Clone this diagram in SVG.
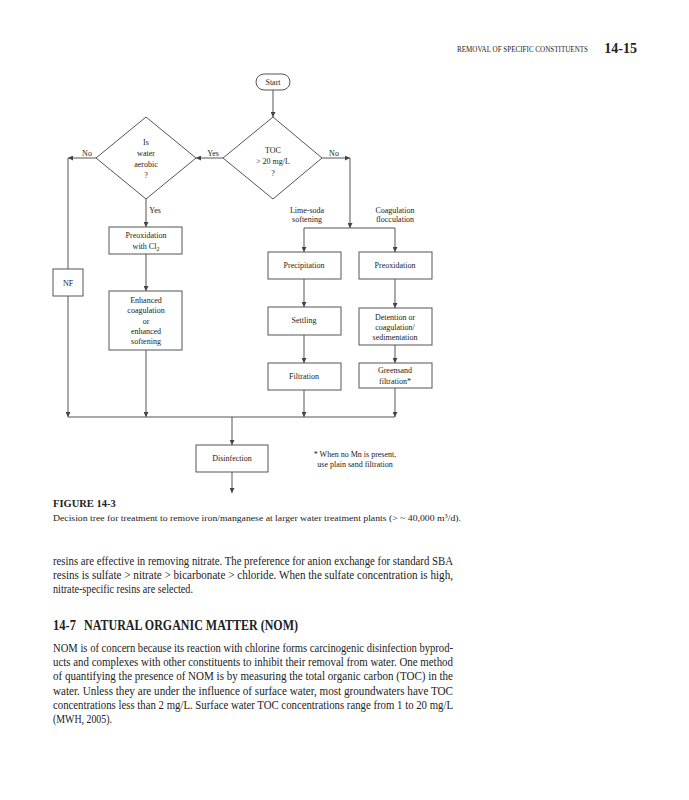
<svg xmlns="http://www.w3.org/2000/svg" width="689" height="800" viewBox="0 0 689 800">
<style>
  .ln{stroke:#555;stroke-width:1;fill:none}
  .box{fill:#fff;stroke:#555;stroke-width:1}
  .t{font-family:"Liberation Serif",serif;font-size:8px;fill:#222;text-anchor:middle}
  .body{font-family:"Liberation Serif",serif;font-size:12.5px;fill:#222}
</style>
<defs>
  <marker id="ah" viewBox="0 0 8 8" refX="8" refY="4" markerWidth="5" markerHeight="5" orient="auto" markerUnits="userSpaceOnUse">
    <path d="M0,0 L8,4 L0,8 Z" fill="#444"/>
  </marker>
</defs>
<rect width="689" height="800" fill="#fff"/>

<text x="588" y="52" font-family="Liberation Serif,serif" font-size="7.5" fill="#222" text-anchor="end" textLength="131" lengthAdjust="spacingAndGlyphs">REMOVAL OF SPECIFIC CONSTITUENTS</text>
<text x="637" y="53" font-family="Liberation Serif,serif" font-size="14" font-weight="bold" fill="#222" text-anchor="end">14-15</text>

<g id="connectors">
  <line class="ln" x1="273" y1="90" x2="273" y2="117" marker-end="url(#ah)"/>
  <line class="ln" x1="223" y1="158" x2="196" y2="158" marker-end="url(#ah)"/>
  <line class="ln" x1="96" y1="158" x2="68" y2="158" marker-end="url(#ah)"/>
  <line class="ln" x1="68" y1="158" x2="68" y2="269"/>
  <line class="ln" x1="68" y1="296" x2="68" y2="417" marker-end="url(#ah)"/>
  <line class="ln" x1="322" y1="158" x2="350" y2="158" marker-end="url(#ah)"/>
  <line class="ln" x1="350" y1="158" x2="350" y2="228" marker-end="url(#ah)"/>
  <line class="ln" x1="304" y1="228" x2="395" y2="228"/>
  <line class="ln" x1="304" y1="228" x2="304" y2="252" marker-end="url(#ah)"/>
  <line class="ln" x1="395" y1="228" x2="395" y2="252" marker-end="url(#ah)"/>
  <line class="ln" x1="304" y1="279" x2="304" y2="307" marker-end="url(#ah)"/>
  <line class="ln" x1="395" y1="279" x2="395" y2="308" marker-end="url(#ah)"/>
  <line class="ln" x1="304" y1="335" x2="304" y2="363" marker-end="url(#ah)"/>
  <line class="ln" x1="395" y1="345" x2="395" y2="363" marker-end="url(#ah)"/>
  <line class="ln" x1="304" y1="390" x2="304" y2="417" marker-end="url(#ah)"/>
  <line class="ln" x1="395" y1="388" x2="395" y2="417" marker-end="url(#ah)"/>
  <line class="ln" x1="146" y1="199" x2="146" y2="227" marker-end="url(#ah)"/>
  <line class="ln" x1="146" y1="254" x2="146" y2="291" marker-end="url(#ah)"/>
  <line class="ln" x1="146" y1="350" x2="146" y2="417" marker-end="url(#ah)"/>
  <line class="ln" x1="68" y1="417" x2="395" y2="417"/>
  <line class="ln" x1="232" y1="417" x2="232" y2="445" marker-end="url(#ah)"/>
  <line class="ln" x1="232" y1="472" x2="232" y2="493" marker-end="url(#ah)"/>
  <text class="t" x="213" y="156">Yes</text>
  <text class="t" x="87" y="156">No</text>
  <text class="t" x="334" y="156">No</text>
  <text class="t" x="155" y="213">Yes</text>
  <text class="t" x="307" y="213">Lime-soda</text>
  <text class="t" x="307" y="222">softening</text>
  <text class="t" x="395" y="213">Coagulation</text>
  <text class="t" x="395" y="222">flocculation</text>
</g>

<g id="start">
  <rect class="box" x="256" y="74" width="34" height="16" rx="8"/>
  <text class="t" x="273" y="85">Start</text>
</g>
<g id="toc">
  <polygon class="box" points="273,117 322,158 273,199 223,158"/>
  <text class="t" x="273" y="153">TOC</text>
  <text class="t" x="273" y="164">&gt; 20 mg/L</text>
  <text class="t" x="273" y="176">?</text>
</g>
<g id="aerobic">
  <polygon class="box" points="146,117 196,158 146,199 96,158"/>
  <text class="t" x="146" y="145">Is</text>
  <text class="t" x="146" y="156">water</text>
  <text class="t" x="146" y="167">aerobic</text>
  <text class="t" x="146" y="178">?</text>
</g>
<g id="nf">
  <rect class="box" x="53" y="269" width="30" height="27"/>
  <text class="t" x="68" y="286">NF</text>
</g>
<g id="preox-cl2">
  <rect class="box" x="109" y="227" width="73" height="27"/>
  <text class="t" x="146" y="238">Preoxidation</text>
  <text class="t" x="146" y="249">with Cl<tspan font-size="6" dy="1.5">2</tspan></text>
</g>
<g id="enhanced">
  <rect class="box" x="109" y="291" width="73" height="59"/>
  <text class="t" x="146" y="303">Enhanced</text>
  <text class="t" x="146" y="313">coagulation</text>
  <text class="t" x="146" y="324">or</text>
  <text class="t" x="146" y="334">enhanced</text>
  <text class="t" x="146" y="344">softening</text>
</g>
<g id="precipitation">
  <rect class="box" x="268" y="252" width="73" height="27"/>
  <text class="t" x="304" y="268">Precipitation</text>
</g>
<g id="preoxidation">
  <rect class="box" x="359" y="252" width="73" height="27"/>
  <text class="t" x="395" y="268">Preoxidation</text>
</g>
<g id="settling">
  <rect class="box" x="268" y="307" width="73" height="28"/>
  <text class="t" x="304" y="323">Settling</text>
</g>
<g id="detention">
  <rect class="box" x="359" y="308" width="73" height="37"/>
  <text class="t" x="395" y="320">Detention or</text>
  <text class="t" x="395" y="330">coagulation/</text>
  <text class="t" x="395" y="340">sedimentation</text>
</g>
<g id="filtration">
  <rect class="box" x="268" y="363" width="73" height="27"/>
  <text class="t" x="304" y="379">Filtration</text>
</g>
<g id="greensand">
  <rect class="box" x="359" y="363" width="73" height="25"/>
  <text class="t" x="395" y="373">Greensand</text>
  <text class="t" x="395" y="384">filtration*</text>
</g>
<g id="disinfection">
  <rect class="box" x="196" y="445" width="72" height="27"/>
  <text class="t" x="232" y="461">Disinfection</text>
</g>
<g id="note">
  <text class="t" x="355" y="457">* When no Mn is present,</text>
  <text class="t" x="355" y="467">use plain sand filtration</text>
</g>

<text x="53" y="507" font-family="Liberation Serif,serif" font-size="10.5" font-weight="bold" fill="#222">FIGURE 14-3</text>
<text x="53" y="521" font-family="Liberation Serif,serif" font-size="8.5" fill="#222" textLength="408" lengthAdjust="spacingAndGlyphs">Decision tree for treatment to remove iron/manganese at larger water treatment plants (&gt; ~ 40,000  m<tspan font-size="5.5" dy="-3">3</tspan><tspan dy="3">/d).</tspan></text>

<text class="body" x="53" y="565" textLength="400" lengthAdjust="spacingAndGlyphs">resins are effective in removing nitrate. The preference for anion exchange for standard SBA</text>
<text class="body" x="53" y="579" textLength="400" lengthAdjust="spacingAndGlyphs">resins is sulfate &gt; nitrate &gt; bicarbonate &gt; chloride. When the sulfate concentration is high,</text>
<text class="body" x="53" y="593" textLength="140" lengthAdjust="spacingAndGlyphs">nitrate-specific resins are selected.</text>

<text x="53" y="630" font-family="Liberation Serif,serif" font-size="14.5" font-weight="bold" fill="#222" textLength="23" lengthAdjust="spacingAndGlyphs">14-7</text>
<text x="84" y="630" font-family="Liberation Serif,serif" font-size="14.5" font-weight="bold" fill="#222" textLength="214" lengthAdjust="spacingAndGlyphs">NATURAL ORGANIC MATTER (NOM)</text>

<text class="body" x="53" y="652" textLength="400" lengthAdjust="spacingAndGlyphs">NOM is of concern because its reaction with chlorine forms carcinogenic disinfection byprod-</text>
<text class="body" x="53" y="666" textLength="400" lengthAdjust="spacingAndGlyphs">ucts and complexes with other constituents to inhibit their removal from water. One method</text>
<text class="body" x="53" y="680" textLength="400" lengthAdjust="spacingAndGlyphs">of quantifying the presence of NOM is by measuring the total organic carbon (TOC) in the</text>
<text class="body" x="53" y="695" textLength="400" lengthAdjust="spacingAndGlyphs">water. Unless they are under the influence of surface water, most groundwaters have TOC</text>
<text class="body" x="53" y="709" textLength="400" lengthAdjust="spacingAndGlyphs">concentrations less than 2 mg/L. Surface water TOC concentrations range from 1 to 20 mg/L</text>
<text class="body" x="53" y="723" textLength="59" lengthAdjust="spacingAndGlyphs">(MWH, 2005).</text>
</svg>
